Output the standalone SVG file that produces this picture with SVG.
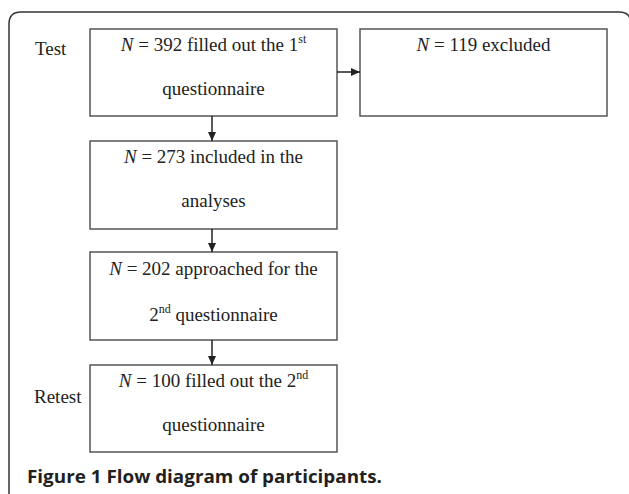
<svg xmlns="http://www.w3.org/2000/svg" width="629" height="494" viewBox="0 0 629 494">
<style>
.box{fill:#fff;stroke:#555;stroke-width:1.5}
.t{font-family:"Liberation Serif","Times New Roman",serif;font-size:19px;fill:#222}
.sup{font-size:12px}
.lbl{font-family:"Liberation Serif","Times New Roman",serif;font-size:19px;fill:#222}
.conn{stroke:#222;stroke-width:1.5;fill:none}
.cap{font-family:"Open Sans","Noto Sans",sans-serif;font-weight:bold;font-size:18px;fill:#231f20}
</style>
<defs>
<marker id="ah" markerWidth="9" markerHeight="8" refX="9" refY="4" orient="auto" markerUnits="userSpaceOnUse">
<path d="M0,0 L9,4 L0,8 Z" fill="#222"/>
</marker>
</defs>
<rect width="629" height="494" fill="#fff"/>
<path d="M9,520 L9,24 Q9,12 21,12 L619,12 Q631,12 631,24 L631,520" fill="none" stroke="#333" stroke-width="1.5"/>
<text class="lbl" x="35" y="55">Test</text>
<text class="lbl" x="34" y="403">Retest</text>
<g id="n392">
<rect class="box" x="90" y="29" width="247" height="87"/>
<text class="t" x="213.5" y="51" text-anchor="middle"><tspan font-style="italic">N</tspan> = 392 filled out the 1<tspan class="sup" dy="-8">st</tspan></text>
<text class="t" x="213.5" y="95" text-anchor="middle">questionnaire</text>
</g>
<g id="n119">
<rect class="box" x="360" y="29" width="247" height="87"/>
<text class="t" x="483.5" y="51" text-anchor="middle"><tspan font-style="italic">N</tspan> = 119 excluded</text>
</g>
<g id="n273">
<rect class="box" x="90" y="141" width="247" height="88"/>
<text class="t" x="213.5" y="163" text-anchor="middle"><tspan font-style="italic">N</tspan> = 273 included in the</text>
<text class="t" x="213.5" y="207" text-anchor="middle">analyses</text>
</g>
<g id="n202">
<rect class="box" x="90" y="252" width="247" height="88"/>
<text class="t" x="213.5" y="275" text-anchor="middle"><tspan font-style="italic">N</tspan> = 202 approached for the</text>
<text class="t" x="213.5" y="321" text-anchor="middle">2<tspan class="sup" dy="-8">nd</tspan><tspan dy="8"> questionnaire</tspan></text>
</g>
<g id="n100">
<rect class="box" x="90" y="365" width="247" height="87"/>
<text class="t" x="213.5" y="387" text-anchor="middle"><tspan font-style="italic">N</tspan> = 100 filled out the 2<tspan class="sup" dy="-8">nd</tspan></text>
<text class="t" x="213.5" y="431" text-anchor="middle">questionnaire</text>
</g>
<g id="connectors">
<line class="conn" x1="337" y1="72" x2="360" y2="72" marker-end="url(#ah)"/>
<line class="conn" x1="212" y1="116" x2="212" y2="141" marker-end="url(#ah)"/>
<line class="conn" x1="212" y1="229" x2="212" y2="252" marker-end="url(#ah)"/>
<line class="conn" x1="212" y1="340" x2="212" y2="365" marker-end="url(#ah)"/>
</g>
<text class="cap" x="27" y="483" textLength="355" lengthAdjust="spacingAndGlyphs">Figure 1 Flow diagram of participants.</text>
</svg>
